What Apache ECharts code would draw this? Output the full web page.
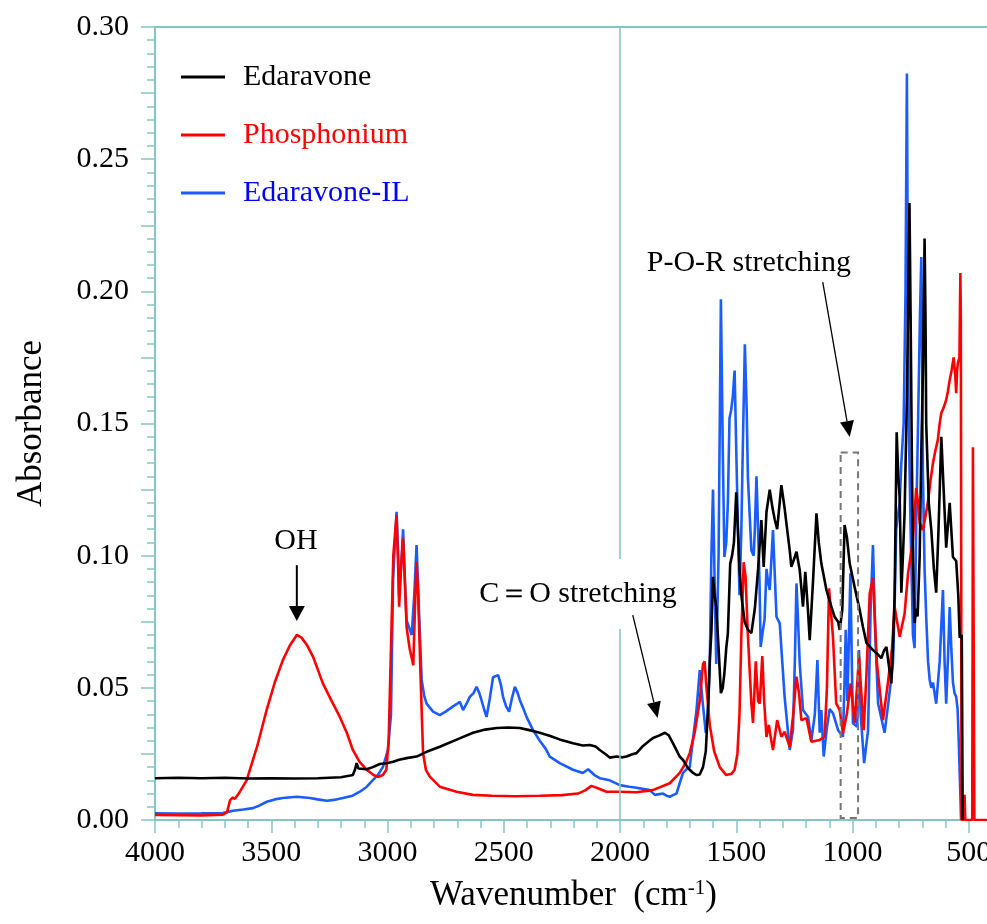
<!DOCTYPE html>
<html>
<head>
<meta charset="utf-8">
<script src="https://cdn.jsdelivr.net/npm/echarts@6/dist/echarts.min.js"></script>
<style>
html,body{margin:0;padding:0;background:#fff;}
#chart{width:987px;height:924px;}
</style>
</head>
<body>
<div id="chart"></div>
<script>
// ---- data: [wavenumber (cm-1), absorbance] ----
const edaravone = [
[4000,0.0158],[3900,0.0160],[3800,0.0158],[3700,0.0160],[3600,0.0157],[3500,0.0158],[3400,0.0157],[3300,0.0158],[3200,0.0162],[3160,0.0168],[3149,0.0170],[3140,0.0190],[3133,0.0215],[3125,0.0195],[3119,0.0190],[3090,0.0192],[3063,0.0200],[3033,0.0212],[3003,0.0215],[2976,0.0220],[2950,0.0228],[2918,0.0234],[2875,0.0240],[2832,0.0258],[2775,0.0277],[2700,0.0305],[2632,0.0330],[2580,0.0342],[2530,0.0348],[2480,0.0350],[2431,0.0348],[2390,0.0340],[2345,0.0330],[2300,0.0318],[2260,0.0305],[2202,0.0290],[2160,0.0282],[2130,0.0284],[2105,0.0278],[2087,0.0265],[2060,0.0248],[2044,0.0236],[2015,0.0240],[1988,0.0237],[1972,0.0240],[1950,0.0248],[1929,0.0253],[1901,0.0280],[1880,0.0295],[1858,0.0310],[1830,0.0320],[1807,0.0330],[1790,0.0320],[1772,0.0290],[1743,0.0240],[1729,0.0227],[1710,0.0200],[1700,0.0190],[1686,0.0178],[1670,0.0170],[1657,0.0172],[1643,0.0200],[1631,0.0260],[1620,0.0450],[1614,0.0600],[1607,0.0710],[1600,0.0920],[1593,0.0850],[1586,0.0806],[1576,0.0650],[1566,0.0480],[1558,0.0500],[1551,0.0556],[1543,0.0650],[1536,0.0707],[1526,0.0970],[1518,0.1000],[1510,0.1050],[1500,0.1240],[1493,0.1100],[1486,0.0950],[1478,0.0850],[1464,0.0750],[1450,0.0720],[1435,0.0707],[1420,0.0800],[1406,0.0950],[1392,0.1135],[1382,0.0957],[1370,0.1165],[1356,0.1250],[1344,0.1180],[1334,0.1135],[1324,0.1100],[1306,0.1267],[1292,0.1180],[1284,0.1120],[1270,0.1020],[1263,0.0958],[1250,0.0990],[1241,0.1015],[1227,0.0946],[1213,0.0807],[1203,0.0939],[1192,0.0800],[1184,0.0680],[1170,0.0900],[1155,0.1160],[1145,0.1050],[1134,0.0970],[1112,0.0870],[1091,0.0807],[1077,0.0769],[1062,0.0750],[1055,0.0719],[1044,0.0794],[1034,0.1116],[1024,0.1070],[1012,0.0970],[991,0.0882],[969,0.0794],[955,0.0730],[940,0.0670],[912,0.0643],[895,0.0630],[876,0.0612],[865,0.0640],[854,0.0655],[843,0.0580],[833,0.0517],[826,0.0650],[819,0.0845],[810,0.1467],[803,0.1300],[797,0.1220],[790,0.0860],[783,0.1000],[776,0.1160],[766,0.1600],[760,0.2000],[755,0.2334],[750,0.1900],[745,0.1400],[740,0.1000],[733,0.0745],[726,0.0800],[720,0.0770],[711,0.1000],[704,0.1400],[697,0.1700],[690,0.2200],[686,0.1900],[683,0.1500],[672,0.1200],[661,0.1097],[650,0.0950],[640,0.0860],[630,0.1100],[618,0.1450],[608,0.1250],[597,0.1030],[582,0.1200],[568,0.0995],[554,0.0980],[545,0.0850],[539,0.0690],[530,0.0700],[526,0.0000]
];
const phosphonium = [
[4000,0.0019],[3900,0.0018],[3800,0.0017],[3708,0.0020],[3690,0.0030],[3677,0.0075],[3665,0.0085],[3656,0.0080],[3640,0.0100],[3606,0.0150],[3560,0.0280],[3520,0.0416],[3485,0.0520],[3450,0.0605],[3420,0.0660],[3390,0.0700],[3370,0.0690],[3345,0.0660],[3320,0.0617],[3300,0.0570],[3278,0.0517],[3240,0.0450],[3205,0.0390],[3175,0.0330],[3149,0.0265],[3120,0.0220],[3089,0.0190],[3060,0.0170],[3041,0.0163],[3020,0.0170],[3005,0.0190],[2995,0.0300],[2985,0.0650],[2975,0.1000],[2961,0.1154],[2954,0.0950],[2950,0.0807],[2942,0.0950],[2933,0.1066],[2925,0.0900],[2918,0.0730],[2905,0.0650],[2889,0.0586],[2882,0.0800],[2875,0.0977],[2868,0.0850],[2858,0.0550],[2847,0.0253],[2835,0.0190],[2818,0.0164],[2775,0.0126],[2703,0.0107],[2633,0.0095],[2550,0.0092],[2450,0.0090],[2345,0.0092],[2250,0.0094],[2180,0.0100],[2150,0.0112],[2123,0.0129],[2095,0.0120],[2058,0.0107],[2001,0.0107],[1929,0.0105],[1859,0.0113],[1786,0.0139],[1743,0.0178],[1715,0.0220],[1700,0.0253],[1679,0.0330],[1657,0.0450],[1643,0.0590],[1636,0.0600],[1628,0.0500],[1614,0.0360],[1595,0.0260],[1571,0.0200],[1543,0.0170],[1520,0.0175],[1507,0.0190],[1495,0.0250],[1486,0.0400],[1478,0.0700],[1468,0.0975],[1460,0.0920],[1450,0.0700],[1435,0.0442],[1428,0.0367],[1416,0.0600],[1406,0.0450],[1399,0.0440],[1388,0.0620],[1380,0.0450],[1370,0.0314],[1360,0.0360],[1349,0.0300],[1342,0.0265],[1324,0.0378],[1306,0.0315],[1292,0.0334],[1270,0.0277],[1255,0.0400],[1241,0.0542],[1230,0.0480],[1220,0.0378],[1198,0.0385],[1177,0.0296],[1141,0.0303],[1120,0.0315],[1110,0.0500],[1101,0.0876],[1084,0.0693],[1070,0.0441],[1055,0.0416],[1041,0.0328],[1024,0.0403],[1008,0.0517],[991,0.0366],[972,0.0618],[952,0.0340],[940,0.0550],[926,0.0857],[912,0.0914],[895,0.0593],[869,0.0378],[848,0.0517],[830,0.0650],[819,0.0807],[797,0.0693],[776,0.0780],[761,0.0933],[740,0.1060],[726,0.1256],[718,0.1200],[711,0.1123],[697,0.1097],[686,0.1150],[676,0.1200],[665,0.1280],[654,0.1350],[643,0.1400],[633,0.1437],[625,0.1500],[618,0.1540],[608,0.1560],[597,0.1589],[590,0.1620],[582,0.1664],[574,0.1700],[565,0.1750],[558,0.1680],[554,0.1615],[550,0.1700],[547,0.1728],[540,0.1750],[536,0.2069],[534,0.1900],[531,0.0000],[521,0.0000],[518,0.0095],[515,0.0000],[485,0.0000],[482,0.1410],[478,0.1410],[476,0.0000],[400,0.0000]
];
const edaravoneIL = [
[4000,0.0025],[3900,0.0024],[3800,0.0025],[3708,0.0026],[3665,0.0035],[3620,0.0040],[3579,0.0045],[3550,0.0055],[3519,0.0069],[3485,0.0078],[3450,0.0083],[3390,0.0088],[3334,0.0083],[3300,0.0078],[3261,0.0073],[3230,0.0076],[3192,0.0083],[3150,0.0092],[3119,0.0107],[3090,0.0125],[3063,0.0151],[3040,0.0172],[3020,0.0200],[2998,0.0265],[2985,0.0400],[2976,0.0910],[2961,0.1166],[2954,0.1000],[2950,0.0850],[2942,0.0950],[2933,0.1100],[2925,0.0900],[2918,0.0756],[2896,0.0700],[2885,0.0850],[2875,0.1040],[2865,0.0800],[2853,0.0530],[2842,0.0470],[2832,0.0440],[2804,0.0410],[2775,0.0397],[2750,0.0410],[2718,0.0430],[2700,0.0440],[2689,0.0447],[2675,0.0416],[2660,0.0440],[2646,0.0466],[2630,0.0480],[2617,0.0504],[2605,0.0480],[2596,0.0454],[2585,0.0420],[2574,0.0390],[2560,0.0460],[2546,0.0540],[2524,0.0548],[2512,0.0510],[2503,0.0466],[2490,0.0430],[2477,0.0410],[2465,0.0460],[2452,0.0504],[2440,0.0480],[2431,0.0454],[2415,0.0420],[2402,0.0390],[2374,0.0340],[2345,0.0300],[2320,0.0270],[2302,0.0240],[2259,0.0215],[2202,0.0190],[2160,0.0178],[2137,0.0192],[2110,0.0170],[2087,0.0158],[2044,0.0150],[2001,0.0132],[1960,0.0126],[1929,0.0122],[1872,0.0113],[1850,0.0095],[1830,0.0098],[1815,0.0100],[1800,0.0092],[1786,0.0088],[1770,0.0095],[1757,0.0100],[1743,0.0140],[1729,0.0178],[1710,0.0195],[1700,0.0200],[1693,0.0253],[1680,0.0350],[1671,0.0416],[1657,0.0567],[1645,0.0450],[1631,0.0330],[1622,0.0400],[1614,0.0580],[1607,0.1000],[1600,0.1250],[1593,0.0900],[1586,0.0590],[1576,0.1000],[1566,0.1970],[1558,0.1400],[1551,0.0995],[1543,0.1050],[1536,0.1200],[1529,0.1520],[1522,0.1550],[1515,0.1600],[1507,0.1700],[1500,0.1400],[1495,0.1200],[1486,0.0850],[1478,0.1100],[1472,0.1400],[1463,0.1800],[1455,0.1550],[1450,0.1300],[1435,0.1020],[1425,0.1000],[1420,0.1100],[1413,0.1300],[1406,0.1100],[1400,0.0900],[1395,0.0655],[1385,0.0720],[1378,0.0760],[1370,0.0950],[1363,0.0900],[1356,0.0870],[1342,0.1097],[1327,0.0769],[1313,0.0744],[1292,0.0466],[1270,0.0265],[1256,0.0340],[1248,0.0600],[1241,0.0895],[1234,0.0750],[1227,0.0593],[1213,0.0416],[1191,0.0390],[1177,0.0300],[1162,0.0400],[1151,0.0605],[1141,0.0330],[1134,0.0416],[1124,0.0240],[1110,0.0350],[1098,0.0420],[1084,0.0404],[1062,0.0340],[1041,0.0315],[1035,0.0500],[1029,0.0720],[1022,0.0450],[1015,0.0700],[1009,0.0933],[1003,0.0600],[998,0.0366],[980,0.0353],[972,0.0643],[965,0.0400],[950,0.0215],[933,0.0340],[922,0.0800],[912,0.1040],[902,0.0700],[890,0.0441],[862,0.0330],[845,0.0450],[826,0.0593],[819,0.0800],[812,0.1100],[805,0.1150],[797,0.1200],[790,0.1350],[780,0.1500],[772,0.2000],[766,0.2824],[762,0.2000],[758,0.1500],[750,0.1100],[745,0.0900],[740,0.0700],[733,0.0650],[726,0.1130],[718,0.1500],[710,0.1900],[704,0.2130],[700,0.1700],[697,0.1300],[690,0.0950],[683,0.0770],[675,0.0600],[668,0.0530],[661,0.0500],[654,0.0520],[647,0.0480],[640,0.0440],[625,0.0600],[611,0.0870],[604,0.0600],[597,0.0440],[590,0.0600],[582,0.0806],[575,0.0650],[568,0.0520],[561,0.0480],[554,0.0466],[548,0.0420],[543,0.0300],[538,0.0150],[533,0.0000]
];
const seriesNames = ['Edaravone', 'Phosphonium', 'Edaravone-IL'];
const xTickLabels = [4000, 3500, 3000, 2500, 2000, 1500, 1000, 500];
const yTickLabels = ['0.00', '0.05', '0.10', '0.15', '0.20', '0.25', '0.30'];

// ---- styling ----
const TEAL = '#86c5c2';
const FONT = '"Liberation Serif", "Times New Roman", serif';
const COL = { black: '#000000', red: '#ff0000', blue: '#1a5cff' };

const chart = echarts.init(document.getElementById('chart'), null, { renderer: 'canvas' });

function lineSeries(name, data, color) {
  return {
    name: name, type: 'line', data: data, xAxisIndex: 0, yAxisIndex: 0,
    showSymbol: false, symbol: 'none', smooth: false,
    lineStyle: { color: color, width: 2.6 }, itemStyle: { color: color },
    emphasis: { disabled: true }, animation: false
  };
}

const blueS = lineSeries(seriesNames[2], edaravoneIL, COL.blue);
blueS.markLine = {
  silent: true, symbol: ['none', 'none'], label: { show: false },
  lineStyle: { color: TEAL, width: 1.6, type: 'solid' },
  data: [{ xAxis: 2000 }], animation: false
};

chart.setOption({
  animation: false,
  backgroundColor: '#ffffff',
  grid: { left: 155, top: 27, width: 837, height: 793, containLabel: false, outerBoundsMode: 'none', show: true, borderColor: TEAL, borderWidth: 2, backgroundColor: 'transparent' },
  legend: {
    orient: 'vertical', left: 176, top: 57, itemGap: 28,
    icon: 'rect', itemWidth: 44, itemHeight: 3,
    textStyle: { fontFamily: FONT, fontSize: 30, lineHeight: 30, padding: [0, 0, 0, 13] },
    data: [
      { name: seriesNames[0], textStyle: { color: '#000000' } },
      { name: seriesNames[1], textStyle: { color: '#ff0000' } },
      { name: seriesNames[2], textStyle: { color: '#0000ff' } }
    ]
  },
  xAxis: [
    {
      type: 'value', inverse: true, min: 400, max: 4000, interval: 100, position: 'bottom',
      axisLine: { show: true, lineStyle: { color: TEAL, width: 2 } },
      axisTick: { show: true, length: 8, lineStyle: { color: TEAL, width: 1.5 } },
      axisLabel: {
        show: true, margin: 18, color: '#000', fontFamily: FONT, fontSize: 30,
        formatter: function (v) { return xTickLabels.indexOf(v) >= 0 ? String(v) : ''; }
      },
      splitLine: { show: false },
      name: '{a|Wavenumber  (cm}{s|-1}{a|)}', nameLocation: 'middle', nameGap: 58,
      nameTextStyle: {
        rich: {
          a: { fontFamily: FONT, fontSize: 35, color: '#000' },
          s: { fontFamily: FONT, fontSize: 21, color: '#000', verticalAlign: 'top', padding: [0, 0, 14, 0] }
        }
      }
    },
    {
      type: 'value', inverse: true, min: 400, max: 4000, interval: 500, position: 'bottom',
      axisLine: { show: false },
      axisTick: { show: true, length: 13, customValues: xTickLabels, lineStyle: { color: TEAL, width: 1.5 } },
      axisLabel: { show: false },
      splitLine: { show: false }
    }
  ],
  yAxis: {
    type: 'value', min: 0, max: 0.3, interval: 0.025,
    axisLine: { show: true, lineStyle: { color: TEAL, width: 2 } },
    axisTick: { show: true, length: 14, lineStyle: { color: TEAL, width: 1.5 } },
    minorTick: { show: true, splitNumber: 5, length: 8, lineStyle: { color: TEAL, width: 1.5 } },
    axisLabel: {
      margin: 26, color: '#000', fontFamily: FONT, fontSize: 30,
      formatter: function (v) { const s = v.toFixed(2); return (yTickLabels.indexOf(s) >= 0 && Math.round(v * 1000) % 50 === 0) ? s : ''; }
    },
    splitLine: { show: false }, minorSplitLine: { show: false },
    name: 'Absorbance', nameLocation: 'middle', nameGap: 106,
    nameTextStyle: { fontFamily: FONT, fontSize: 35, color: '#000' }
  },
  series: [
    blueS,
    lineSeries(seriesNames[1], phosphonium, COL.red),
    lineSeries(seriesNames[0], edaravone, COL.black)
  ]
});

// ---- annotations placed in data coordinates ----
function px(p) { return chart.convertToPixel({ xAxisIndex: 0, yAxisIndex: 0 }, p); }
function arrow(from, to, lw, headLen, headW) {
  const a = px(from), b = px(to);
  const dx = b[0] - a[0], dy = b[1] - a[1], L = Math.hypot(dx, dy);
  const ux = dx / L, uy = dy / L, nx = -uy, ny = ux;
  const base = [b[0] - ux * headLen, b[1] - uy * headLen];
  return [
    { type: 'line', z: 100, silent: true, shape: { x1: a[0], y1: a[1], x2: base[0], y2: base[1] }, style: { stroke: '#000', lineWidth: lw } },
    { type: 'polygon', z: 100, silent: true, shape: { points: [b, [base[0] + nx * headW / 2, base[1] + ny * headW / 2], [base[0] - nx * headW / 2, base[1] - ny * headW / 2]] }, style: { fill: '#000' } }
  ];
}
function label(text, at, extra) {
  const p = px(at);
  return {
    type: 'text', z: 100, silent: true, x: p[0], y: p[1],
    style: Object.assign({ text: text, font: '30px ' + FONT, fill: '#000', align: 'center', verticalAlign: 'middle' }, extra || {})
  };
}
const r1 = px([1051, 0.139]), r2 = px([976, 0.0008]);
const graphics = [].concat(
  [label('OH', [3394, 0.1055])],
  arrow([3390, 0.0964], [3390, 0.0753], 2, 15, 16),
  [label('C\uFF1DO stretching', [2181, 0.0855], { backgroundColor: '#fff', padding: [20, 4, 20, 4] })],
  arrow([1945, 0.0775], [1838, 0.0386], 1.3, 16, 14),
  [label('P-O-R stretching', [1446, 0.2107])],
  arrow([1128, 0.2035], [1012, 0.1449], 1.3, 16, 14),
  [{ type: 'rect', z: 100, silent: true, shape: { x: r1[0], y: r1[1], width: r2[0] - r1[0], height: r2[1] - r1[1] }, style: { fill: 'none', stroke: '#777', lineWidth: 2, lineDash: [7, 5] } }]
);
chart.setOption({ graphic: graphics });
</script>
</body>
</html>
